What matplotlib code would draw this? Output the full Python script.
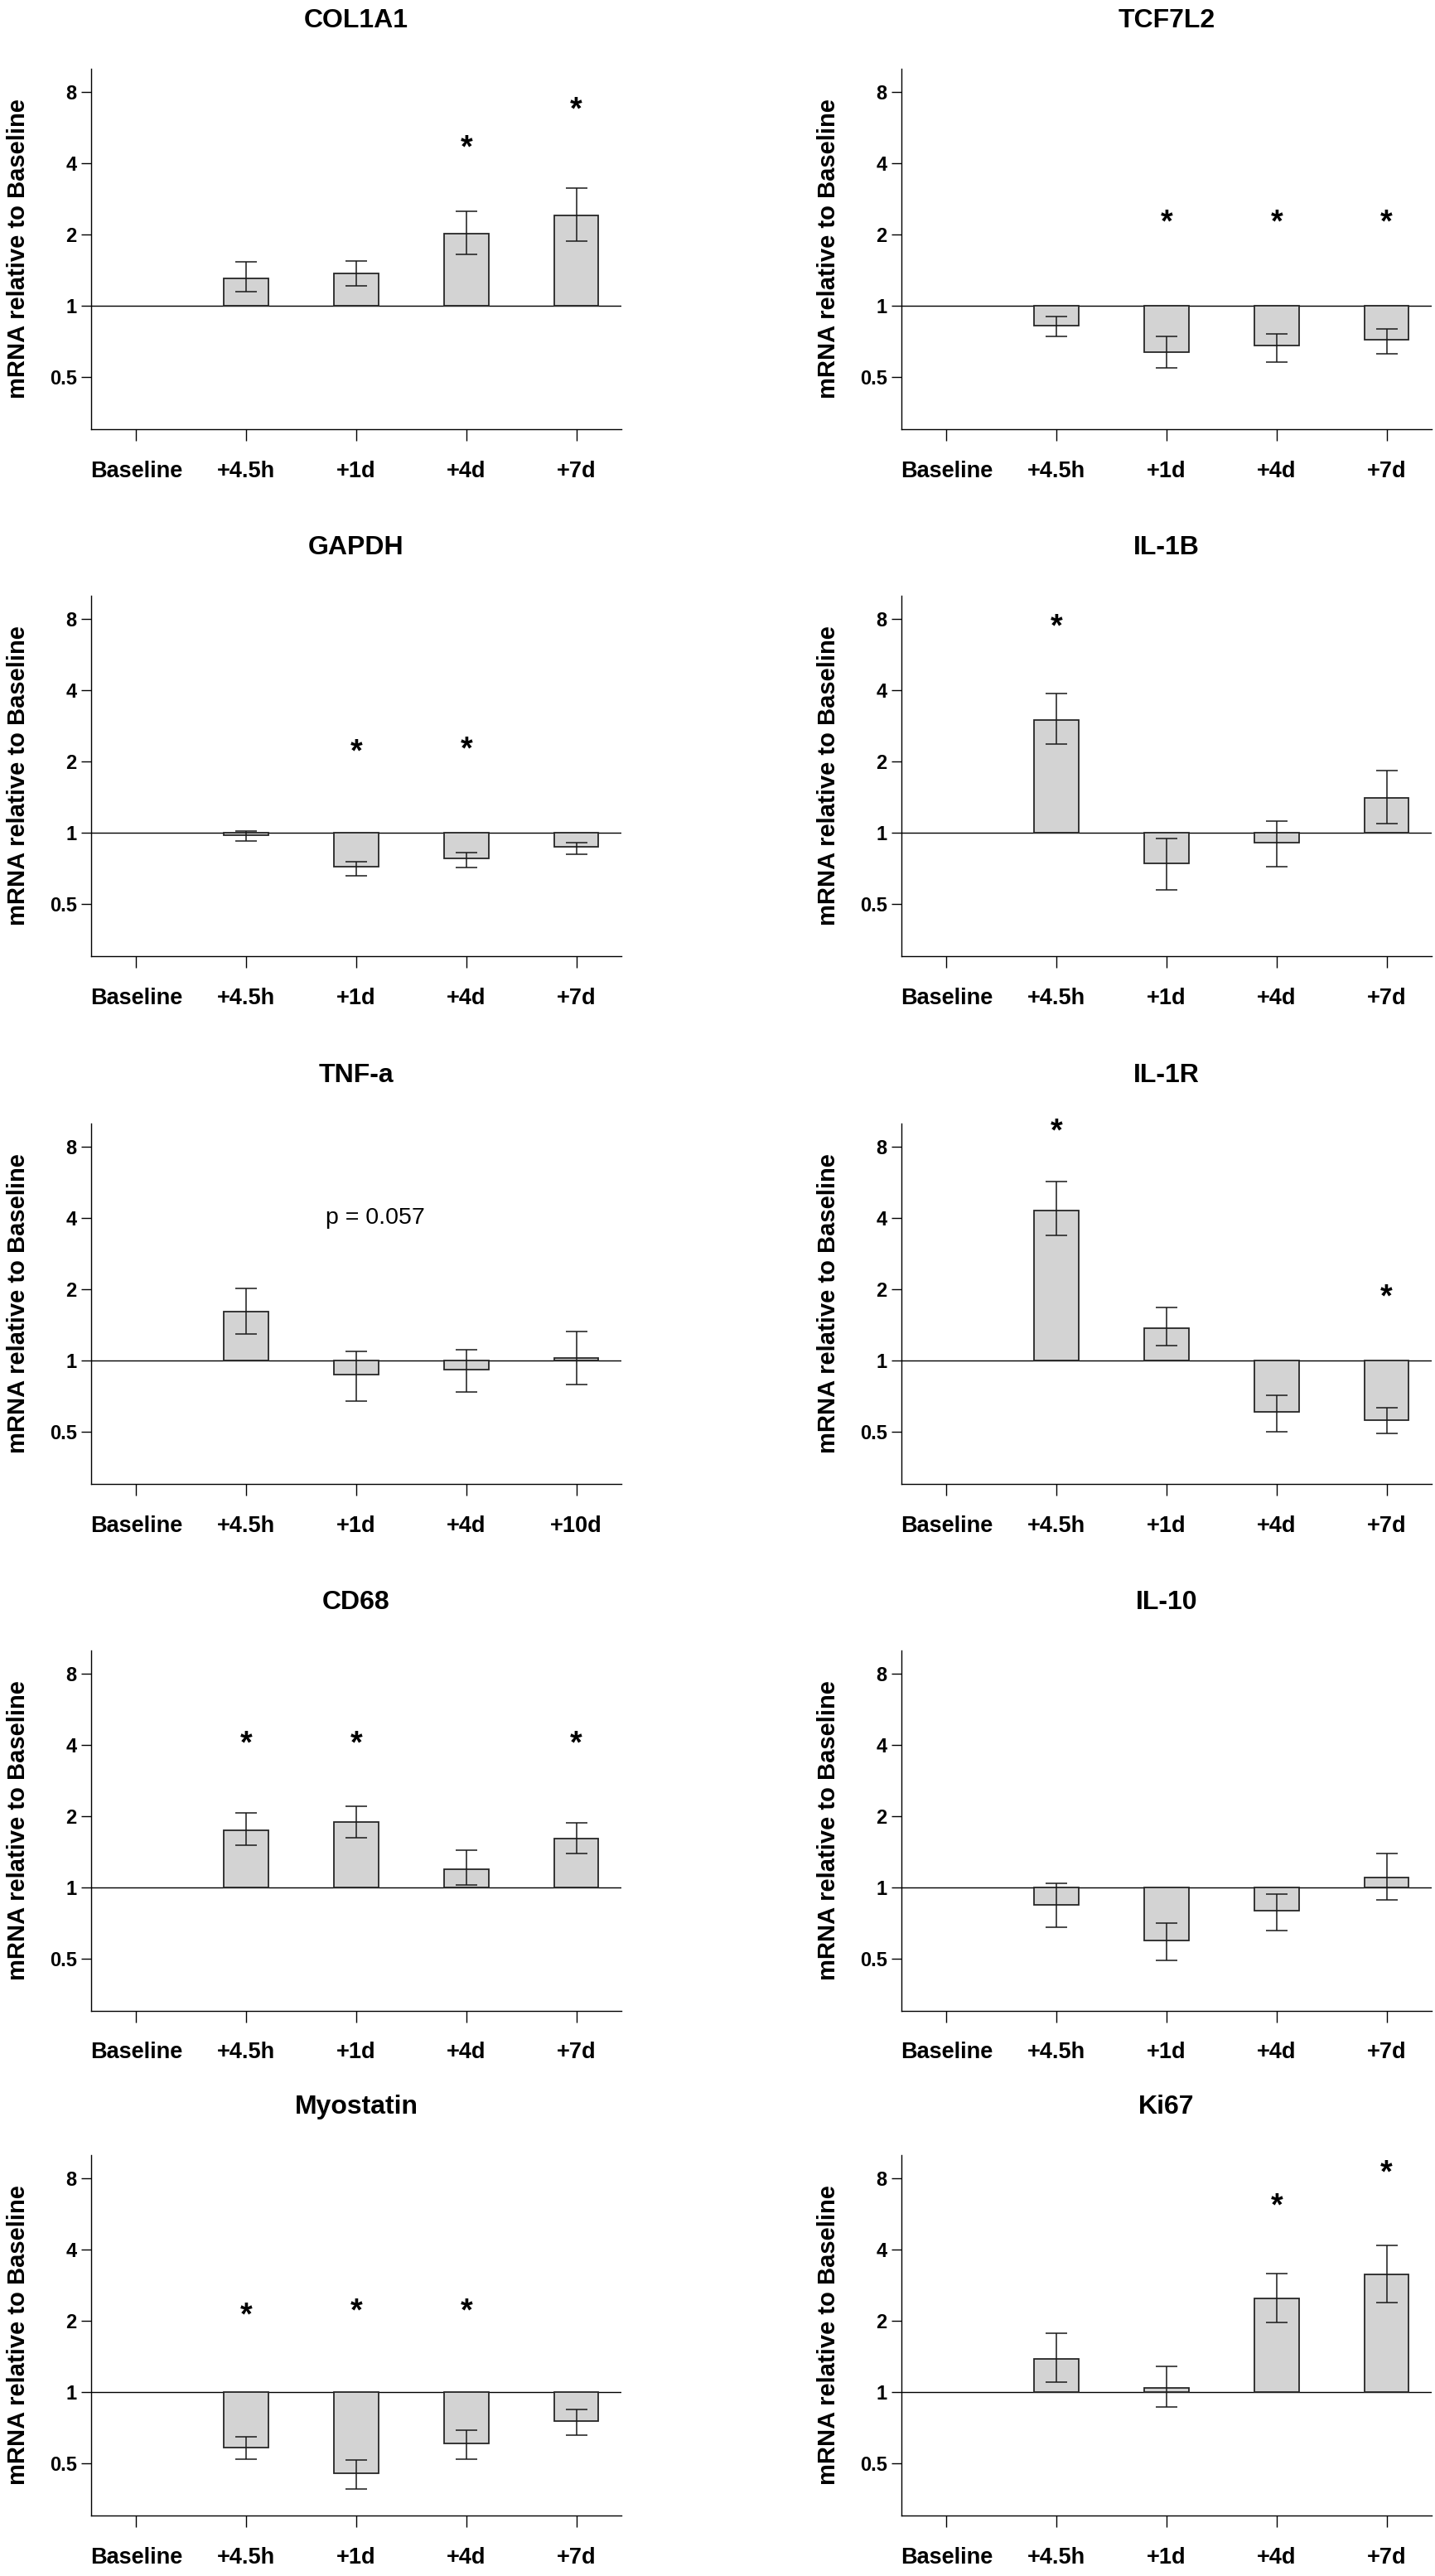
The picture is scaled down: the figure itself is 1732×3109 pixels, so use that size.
import numpy as np
import matplotlib
matplotlib.use("Agg")
import matplotlib.pyplot as plt

plt.rcParams['font.family'] = ['Liberation Sans', 'DejaVu Sans']

# ---- data (fold change vs baseline, lower / upper end of error bar) ----
timepoints = ['Baseline', '+4.5h', '+1d', '+4d', '+7d']
timepoints_tnf = ['Baseline', '+4.5h', '+1d', '+4d', '+10d']

genes = ['COL1A1', 'TCF7L2', 'GAPDH', 'IL-1B', 'TNF-a', 'IL-1R', 'CD68', 'IL-10', 'Myostatin', 'Ki67']

col1a1_mean = [1.30, 1.36, 2.01, 2.40]
col1a1_lo = [1.14, 1.21, 1.64, 1.87]
col1a1_hi = [1.53, 1.54, 2.49, 3.13]
col1a1_stars = {3: 5.0, 4: 7.25}

tcf7l2_mean = [0.823, 0.637, 0.678, 0.715]
tcf7l2_lo = [0.74, 0.543, 0.578, 0.626]
tcf7l2_hi = [0.90, 0.74, 0.76, 0.795]
tcf7l2_stars = {2: 2.42, 3: 2.42, 4: 2.42}

gapdh_mean = [0.97, 0.715, 0.774, 0.868]
gapdh_lo = [0.92, 0.654, 0.708, 0.809]
gapdh_hi = [1.01, 0.754, 0.823, 0.907]
gapdh_stars = {2: 2.36, 3: 2.42}

il1b_mean = [2.99, 0.74, 0.907, 1.40]
il1b_lo = [2.36, 0.573, 0.715, 1.09]
il1b_hi = [3.87, 0.94, 1.12, 1.82]
il1b_stars = {1: 8.0}

tnfa_mean = [1.60, 0.868, 0.915, 1.02]
tnfa_lo = [1.29, 0.672, 0.734, 0.788]
tnfa_hi = [2.01, 1.09, 1.11, 1.32]
tnfa_stars = {}
tnfa_note = (2.17, 4.0, 'p = 0.057')

il1r_mean = [4.30, 1.37, 0.604, 0.558]
il1r_lo = [3.36, 1.15, 0.497, 0.489]
il1r_hi = [5.71, 1.67, 0.708, 0.632]
il1r_stars = {1: 10.0, 4: 2.0}

cd68_mean = [1.74, 1.88, 1.19, 1.60]
cd68_lo = [1.50, 1.62, 1.02, 1.39]
cd68_hi = [2.06, 2.19, 1.43, 1.87]
cd68_stars = {1: 4.36, 2: 4.36, 4: 4.36}

il10_mean = [0.845, 0.593, 0.795, 1.10]
il10_lo = [0.679, 0.49, 0.657, 0.887]
il10_hi = [1.04, 0.705, 0.937, 1.39]
il10_stars = {}

myostatin_mean = [0.583, 0.451, 0.603, 0.753]
myostatin_lo = [0.517, 0.387, 0.517, 0.657]
myostatin_hi = [0.643, 0.514, 0.687, 0.84]
myostatin_stars = {1: 2.28, 2: 2.37, 3: 2.37}

ki67_mean = [1.38, 1.04, 2.47, 3.14]
ki67_lo = [1.10, 0.863, 1.97, 2.39]
ki67_hi = [1.77, 1.28, 3.17, 4.15]
ki67_stars = {3: 6.59, 4: 9.09}

yticks = [0.5, 1, 2, 4, 8]
ytick_labels = ['0.5', '1', '2', '4', '8']


def draw_panel(ax, title, labels, mean, lo, hi, stars, note=None):
    x = np.arange(1, len(labels))
    mean = np.array(mean)
    lo = np.array(lo)
    hi = np.array(hi)
    ax.axhline(1, color='black', lw=1.0, zorder=1)
    ax.bar(x, mean - 1, bottom=1, width=0.405, color='#d3d3d3',
           edgecolor='#262626', linewidth=1.3, zorder=2)
    ax.errorbar(x, mean, yerr=[mean - lo, hi - mean], fmt='none',
                ecolor='#1a1a1a', elinewidth=1.1, capsize=9.7, capthick=1.1, zorder=3)
    fs = 27
    for i, v in stars.items():
        ax.annotate('*', xy=(i, v), xytext=(0, -0.55 * fs), textcoords='offset points',
                    ha='center', va='baseline', fontsize=fs, fontweight='bold',
                    annotation_clip=False)
    if note is not None:
        ax.text(note[0], note[1], note[2], ha='center', va='center', fontsize=20.5)

    ax.set_yscale('log')
    ax.set_ylim(0.3, 10)
    ax.set_xlim(-0.41, 4.41)
    ax.set_yticks(yticks)
    ax.set_yticklabels(ytick_labels, fontsize=17, fontweight='bold')
    ax.minorticks_off()
    ax.set_xticks(range(len(labels)))
    ax.set_xticklabels(labels, fontsize=19.5, fontweight='bold')
    ax.tick_params(axis='x', direction='out', length=10, width=1.0, pad=17)
    ax.tick_params(axis='y', direction='out', length=9, width=1.0, pad=3.5)
    for s in ['top', 'right']:
        ax.spines[s].set_visible(False)
    for s in ['left', 'bottom']:
        ax.spines[s].set_linewidth(1.0)
    ax.set_title(title, fontsize=23, fontweight='bold', pad=36)
    ax.set_ylabel('mRNA relative to Baseline', fontsize=21, fontweight='bold')
    ax.yaxis.set_label_coords(-0.116, 0.5)


W, H = 1733, 3109
fig = plt.figure(figsize=(W / 100, H / 100), dpi=100)

col_left = [110, 1088]
ax_w = 640
row_top = [83, 719, 1356, 1992, 2601]
ax_h = 435

panels = [
    ('COL1A1', timepoints, col1a1_mean, col1a1_lo, col1a1_hi, col1a1_stars, None),
    ('TCF7L2', timepoints, tcf7l2_mean, tcf7l2_lo, tcf7l2_hi, tcf7l2_stars, None),
    ('GAPDH', timepoints, gapdh_mean, gapdh_lo, gapdh_hi, gapdh_stars, None),
    ('IL-1B', timepoints, il1b_mean, il1b_lo, il1b_hi, il1b_stars, None),
    ('TNF-a', timepoints_tnf, tnfa_mean, tnfa_lo, tnfa_hi, tnfa_stars, tnfa_note),
    ('IL-1R', timepoints, il1r_mean, il1r_lo, il1r_hi, il1r_stars, None),
    ('CD68', timepoints, cd68_mean, cd68_lo, cd68_hi, cd68_stars, None),
    ('IL-10', timepoints, il10_mean, il10_lo, il10_hi, il10_stars, None),
    ('Myostatin', timepoints, myostatin_mean, myostatin_lo, myostatin_hi, myostatin_stars, None),
    ('Ki67', timepoints, ki67_mean, ki67_lo, ki67_hi, ki67_stars, None),
]

for k, p in enumerate(panels):
    r, c = divmod(k, 2)
    rect = [col_left[c] / W, 1 - (row_top[r] + ax_h) / H, ax_w / W, ax_h / H]
    ax = fig.add_axes(rect)
    draw_panel(ax, *p)

fig.savefig('out.png', dpi=100)
